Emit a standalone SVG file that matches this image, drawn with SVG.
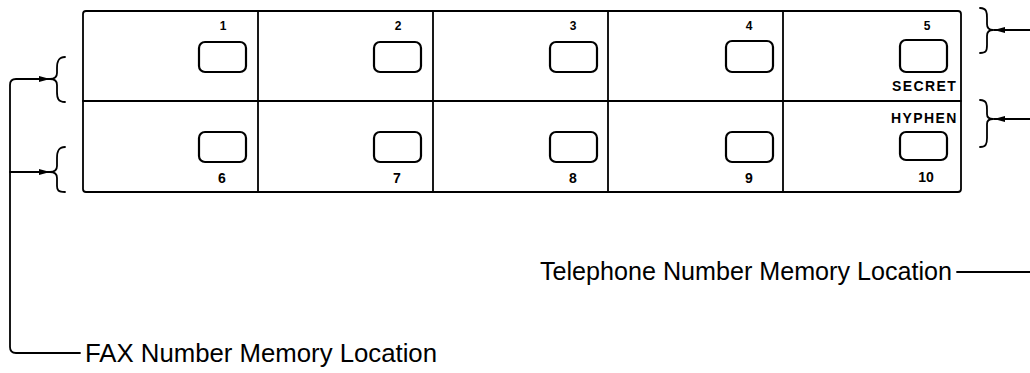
<svg xmlns="http://www.w3.org/2000/svg" width="1030" height="373" viewBox="0 0 1030 373">
<style>
.ln{fill:none;stroke:#000;stroke-width:1.8;stroke-linecap:round;stroke-linejoin:round}
.btn{fill:#fff;stroke:#000;stroke-width:2.2}
.num{font-family:"Liberation Sans",Arial,sans-serif;font-weight:bold;font-size:12px;text-anchor:middle;fill:#000}
.numb{font-family:"Liberation Sans",Arial,sans-serif;font-weight:bold;font-size:14px;text-anchor:middle;fill:#000}
.lbl{font-family:"Liberation Sans",Arial,sans-serif;font-weight:bold;font-size:14px;letter-spacing:1.4px;fill:#000}
.cap{font-family:"Liberation Sans",Arial,sans-serif;font-size:25px;fill:#000}
</style>
<defs>
<marker id="ah" markerWidth="12" markerHeight="8" refX="11" refY="4" orient="auto" markerUnits="userSpaceOnUse">
<path d="M0,1 L11,4 L0,7 Z" fill="#000"/>
</marker>
</defs>
<g id="panel">
<rect x="83" y="11" width="878" height="181" rx="3" class="ln" stroke-width="2.2"/>
<path class="ln" stroke-width="2" d="M83,101 H961 M258,11 V192 M433,11 V192 M608,11 V192 M783,11 V192"/>
</g>
<g id="key1"><rect class="btn" x="199" y="42" width="47" height="30" rx="6"/><text class="num" x="223" y="30">1</text></g>
<g id="key2"><rect class="btn" x="374" y="42" width="47" height="30" rx="6"/><text class="num" x="398" y="30">2</text></g>
<g id="key3"><rect class="btn" x="550" y="42" width="47" height="30" rx="6"/><text class="num" x="573" y="30">3</text></g>
<g id="key4"><rect class="btn" x="726" y="41" width="47" height="31" rx="6"/><text class="num" x="749" y="30">4</text></g>
<g id="key5"><rect class="btn" x="900" y="40" width="47" height="32" rx="6"/><text class="num" x="927" y="30">5</text><text class="lbl" x="892" y="91">SECRET</text></g>
<g id="key6"><rect class="btn" x="199" y="132" width="47" height="30" rx="6"/><text class="numb" x="222" y="183">6</text></g>
<g id="key7"><rect class="btn" x="374" y="132" width="47" height="30" rx="6"/><text class="numb" x="397" y="183">7</text></g>
<g id="key8"><rect class="btn" x="550" y="132" width="47" height="30" rx="6"/><text class="numb" x="573" y="183">8</text></g>
<g id="key9"><rect class="btn" x="726" y="132" width="47" height="30" rx="6"/><text class="numb" x="749" y="183">9</text></g>
<g id="key10"><rect class="btn" x="900" y="132" width="47" height="28" rx="6"/><text class="numb" x="926" y="182">10</text><text class="lbl" x="891" y="123">HYPHEN</text></g>
<g id="fax-label"><text class="cap" x="85" y="362" textLength="352" lengthAdjust="spacingAndGlyphs">FAX Number Memory Location</text></g>
<g id="tel-label"><text class="cap" x="540" y="280" textLength="412" lengthAdjust="spacingAndGlyphs">Telephone Number Memory Location</text></g>
<g id="connectors">
<path class="ln" d="M65,57 C58,57 57,62 57,68 L57,73 C57,77 54,79 50,79 C54,79 57,81 57,85 L57,92 C57,98 58,102 65,102"/>
<path class="ln" d="M65,147 C58,147 57,152 57,158 L57,166 C57,170 54,172 50,172 C54,172 57,174 57,178 L57,186 C57,190 58,192 65,192"/>
<path class="ln" d="M980,8 C987,8 987,13 987,18 L987,24 C987,28 989,30 993,30 C989,30 987,32 987,36 L987,45 C987,51 986,53 980,53"/>
<path class="ln" d="M980,100 C987,100 987,105 987,110 L987,114 C987,117 989,119 993,119 C989,119 987,121 987,124 L987,138 C987,144 986,147 980,147"/>
<path class="ln" d="M30,79 H16 Q10,79 10,85 V347 Q10,353 16,353 H80"/>
<path class="ln" d="M10,172 H30"/>
<line class="ln" x1="28" y1="79" x2="50" y2="79" marker-end="url(#ah)"/>
<line class="ln" x1="28" y1="172" x2="50" y2="172" marker-end="url(#ah)"/>
<line class="ln" x1="1030" y1="30" x2="994" y2="30" marker-end="url(#ah)"/>
<line class="ln" x1="1030" y1="119" x2="994" y2="119" marker-end="url(#ah)"/>
<path class="ln" d="M957,272 H1030"/>
</g>
</svg>
